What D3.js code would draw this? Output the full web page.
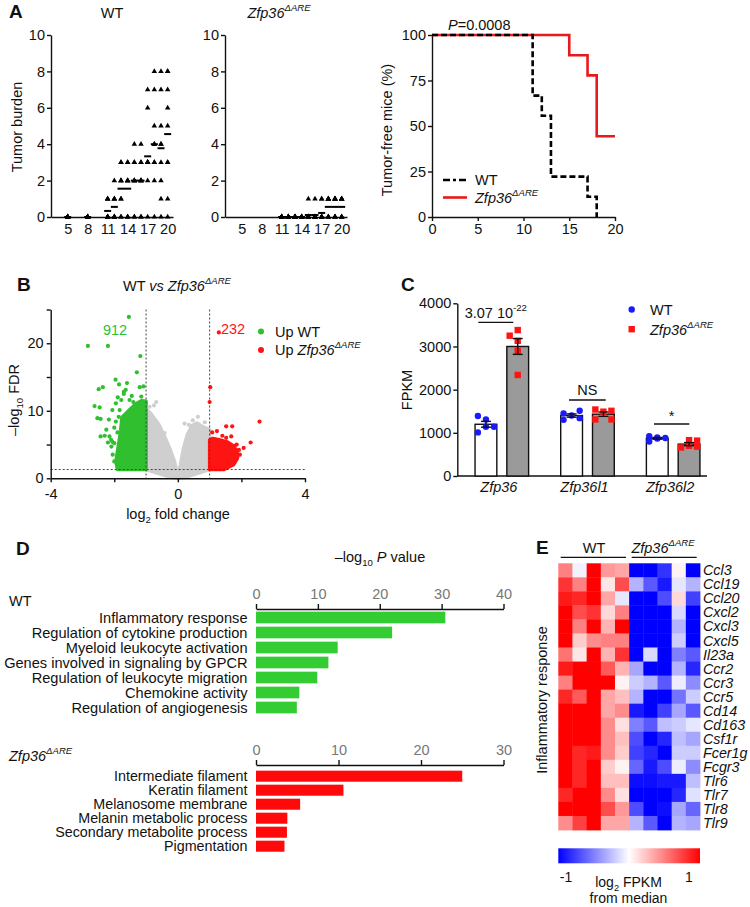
<!DOCTYPE html>
<html><head><meta charset="utf-8">
<script src="https://cdn.jsdelivr.net/npm/d3@7"></script>
<style>
body{margin:0;background:#fff;}
</style></head><body>
<script>
// ---------------- DATA ----------------
// Panel A: tumour burden per mouse per day
const dayTicks = [5, 8, 11, 14, 17, 20];
const burdenTicks = [0, 2, 4, 6, 8, 10];
const wtDays = [5, 8, 11, 12, 13, 14, 15, 16, 17, 18, 19, 20];
const wtBurden = [
  [0,0,0,0,0,0,0,0,0],
  [0,0,0,0,0,0,0,0,0],
  [1,1,1,0,0,0,0,0,0],
  [2,1,1,1,0,0,0,0,0],
  [3,3,2,2,2,1,1,0,0],
  [3,3,2,2,2,2,0,0,0],
  [4,3,3,2,2,2,2,0,0],
  [4,3,3,2,2,2,2,0,0],
  [7,6,3,3,3,3,3,2,0],
  [8,7,5,4,4,3,3,2,0],
  [8,7,5,4,4,3,2,1,0],
  [8,8,7,6,5,3,3,1,0]
];
const koDays = [11, 12, 13, 14, 15, 16, 17, 18, 19, 20];
const koBurden = [
  [0,0,0,0,0,0,0,0,0],
  [0,0,0,0,0,0,0,0,0],
  [0,0,0,0,0,0,0,0,0],
  [0,0,0,0,0,0,0,0,0],
  [1,0,0,0,0,0,0,0,0],
  [1,0,0,0,0,0,0,0,0],
  [1,1,0,0,0,0,0,0,0],
  [1,1,1,1,1,0,0,0,0],
  [1,1,1,1,1,0,0,0,0],
  [1,1,1,1,1,0,0,0,0]
];
// Panel A: tumour-free survival
const survTicksX = [0, 5, 10, 15, 20];
const survTicksY = [0, 25, 50, 75, 100];
const wtSurvDay = [0, 11, 12, 13, 17, 18];
const wtSurvPct = [100, 66.7, 55.6, 22.2, 11.1, 0];
const koSurvDay = [0, 15, 17, 18, 20];
const koSurvPct = [100, 88.9, 77.8, 44.4, 44.4];

// Panel B: volcano (dense clouds as outlines, sparse points individually)
const volcTicksX = [-4, -2, 0, 2, 4];
const volcTicksY = [0, 5, 10, 15, 20, 25];
const greyCloud = [[-1,10.3],[-0.85,9.6],[-0.6,8.0],[-0.4,6.0],[-0.25,4.4],[-0.1,2.4],[0,0.4],[0.08,2.0],[0.18,4.5],[0.3,6.5],[0.45,7.8],[0.6,8.2],[0.8,7.6],[1,7.2],[1,1.3],[0.6,0.7],[0.2,0.1],[0,0],[-0.2,0.1],[-0.6,0.7],[-1,1.3]];
const greenCloud = [[-1,1.3],[-1.9,1.3],[-1.95,2.5],[-1.9,4],[-1.85,5.5],[-1.8,7],[-1.76,9],[-1.55,10],[-1.33,11],[-1.15,11.5],[-1,11.4]];
const redCloud = [[1,1.3],[1.45,1.3],[1.75,2],[1.88,3],[1.86,4],[1.75,4.8],[1.55,5.4],[1.3,5.7],[1.1,5.9],[1,5.7]];
const greySpots = [[-0.68,11.3],[-0.89,10.6],[-0.75,10.8],[0.63,9.1],[0.47,8.6],[0.21,8.1],[0.35,7.9],[-0.42,6.7],[0.85,8.3]];
const greenSpots = [[-1.54,23.9],[-2.83,19.6],[-2.2,19.6],[-1.18,18.1],[-1.29,15.7],[-1.96,14.6],[-1.85,13.9],[-1.6,14.1],[-1.64,13.1],[-1.2,13.5],[-1.08,13.6],[-2.49,13.2],[-2.36,13.5],[-2.62,10.7],[-2.46,10.5],[-2.53,8.9],[-2.43,8.8],[-2.17,8.7],[-1.89,12.0],[-1.78,11.6],[-1.52,11.6],[-1.86,9.1],[-1.83,10.1],[-1.95,11.1],[-2.06,10.1],[-1.7,12.5],[-1.45,12.2],[-2.43,6.2],[-2.3,6.3],[-2.15,6.2],[-2.06,5.4],[-2.2,5.3],[-2.09,4.7],[-2.0,5.2],[-2.1,5.7],[-1.95,8.4],[-2.0,7.5],[-2.05,3.5],[-2.0,2.5],[-1.7,12.8],[-1.4,11.3],[-1.15,12.1],[-2.25,7.2],[-1.9,6.8]];
const redSpots = [[1.29,21.6],[1.02,13.5],[1.0,11.3],[2.57,8.4],[1.52,7.7],[1.71,7.7],[1.23,7.0],[1.08,6.8],[2.29,5.3],[2.07,4.5],[1.78,4.8],[1.68,6.2],[1.52,6.0],[1.95,3.5],[1.92,4.2],[1.85,5.0],[1.4,6.3]];

// Panel C: FPKM
const genesC = ['Zfp36', 'Zfp36l1', 'Zfp36l2'];
const fpkmTicks = [0, 1000, 2000, 3000, 4000];
const wtFpkm = [[1390,1310,1140,1010,1140],[1450,1400,1510,1300,1340],[920,890,880,800,870]];
const koFpkm = [[3250,3380,3130,2900,2340],[1540,1490,1510,1310,1310],[660,830,820,700,680]];
const wtSlots = [[0,1,2,0,1],[0,1,2,0,2],[0,1,2,0,1]];
const koSlots = [[0,1,1,1,1],[0,1,2,0,2],[0,1,2,1,2]];

// Panel D: enrichment
const wtTerms = ['Inflammatory response','Regulation of cytokine production','Myeloid leukocyte activation','Genes involved in signaling by GPCR','Regulation of leukocyte migration','Chemokine activity','Regulation of angiogenesis'];
const wtLogP = [30.6, 22.0, 13.2, 11.7, 9.9, 7.0, 6.6];
const wtPTicks = [0, 10, 20, 30, 40];
const koTerms = ['Intermediate filament','Keratin filament','Melanosome membrane','Melanin metabolic process','Secondary metabolite process','Pigmentation'];
const koLogP = [25.0, 10.6, 5.35, 3.8, 3.75, 3.45];
const koPTicks = [0, 10, 20, 30];

// Panel E: heatmap (log2 FPKM from median), 5 WT then 5 KO
const heatGenes = ['Ccl3','Ccl19','Ccl20','Cxcl2','Cxcl3','Cxcl5','Il23a','Ccr2','Ccr3','Ccr5','Cd14','Cd163','Csf1r','Fcer1g','Fcgr3','Tlr6','Tlr7','Tlr8','Tlr9'];
const heatVals = [
  [0.5,-0.05,1,0.4,0.35,-1,-1,-0.8,0.05,-1],
  [0.8,0.5,1,0.1,0.7,-0.3,-0.65,-0.9,-0.1,-0.3],
  [0.9,0.85,1,0.35,-0.1,-1,-1,-0.7,0.15,-0.75],
  [1,0.7,0.8,0.15,0.5,-1,-1,-1,-0.15,-1],
  [1,0.5,1,0.3,1,-1,-1,-1,-0.3,-1],
  [1,0.2,0.45,0.5,0.5,-1,-1,-1,-0.2,-1],
  [0.55,0.1,1,0.3,0.8,-1,-0.15,-1,-0.5,-0.65],
  [0.9,1,1,0.65,0.3,-0.35,-1,-1,-0.3,-0.85],
  [0.5,1,1,1,0.05,-0.2,-0.3,-0.65,-0.07,-0.45],
  [0.85,0.65,1,0.35,0.25,-0.3,-1,-1,-0.55,-0.2],
  [1,1,1,0.35,0.45,-0.9,-1,-0.75,-0.35,-0.65],
  [1,1,1,0.45,0.12,-0.5,-0.65,-0.25,-0.2,-0.1],
  [1,1,1,0.45,0.25,-0.7,-1,-0.85,-0.25,-0.35],
  [1,0.85,0.9,0.45,0.2,-0.75,-0.85,-1,-0.2,-0.2],
  [1,0.85,1,0.2,0.05,-0.6,-0.9,-0.7,-0.07,-0.45],
  [1,0.85,1,0.25,0.25,-0.95,-0.95,-0.9,-0.9,-0.25],
  [0.85,1,1,0.45,0.12,-1,-1,-1,-0.85,-0.12],
  [1,1,1,0.7,0.4,-0.7,-1,-0.95,-0.35,-0.6],
  [0.45,0.75,1,0.35,0.35,-0.3,-0.65,-1,-0.3,-0.35]
];

// ---------------- DRAWING ----------------
const F = '"Liberation Sans", Arial, Helvetica, sans-serif';
const FS = 14.5;
const INK = '#111';
const GREEN = '#2fbf2f', RED = '#ff1414', BLUE = '#1a1aff';
const svg = d3.select('body').append('svg').attr('width', 750).attr('height', 907).style('display', 'block');
svg.append('rect').attr('width', 750).attr('height', 907).attr('fill', '#fff');

function rich(x, y, parts, o = {}) {
  const size = o.size || FS;
  const t = svg.append('text').attr('x', x).attr('y', y).attr('font-size', size)
    .attr('font-family', F).attr('text-anchor', o.anchor || 'start').attr('fill', o.fill || INK);
  if (o.weight) t.attr('font-weight', o.weight);
  if (o.rotate !== undefined) t.attr('transform', `rotate(${o.rotate},${x},${y})`);
  let shift = 0;
  parts.forEach(p => {
    if (typeof p === 'string') p = { t: p };
    const s = p.sup ? -0.45 * size : p.sub ? 0.28 * size : 0;
    const ts = t.append('tspan').text(p.t);
    if (s !== shift) { ts.attr('dy', s - shift); shift = s; }
    if (p.sup || p.sub) ts.attr('font-size', size * 0.66);
    if (p.i) ts.attr('font-style', 'italic');
  });
  return t;
}
function styleAx(g, col = INK, size = FS) {
  g.attr('font-family', F).attr('font-size', size);
  g.selectAll('.domain').attr('stroke', INK).attr('stroke-width', 1.4);
  g.selectAll('.tick line').attr('stroke', INK).attr('stroke-width', 1.4);
  g.selectAll('.tick text').attr('fill', col);
  return g;
}
const KO = [{ t: 'Zfp36', i: true }, { t: '\u0394ARE', i: true, sup: true }];

// Panel letters
[['A', 9, 18], ['B', 17, 291], ['C', 401, 291], ['D', 16, 555], ['E', 536, 554]].forEach(([l, x, y]) =>
  rich(x, y, [l], { size: 19, weight: 900 }));

// ---- Panel A scatter plots ----
function burdenPanel(x0, x1, days, vals, titleParts, titleX) {
  const x = d3.scaleLinear().domain([2.5, 20.8]).range([x0, x1]);
  const y = d3.scaleLinear().domain([0, 10]).range([217, 35]);
  styleAx(svg.append('g').attr('transform', `translate(${x0},0)`)
    .call(d3.axisLeft(y).tickValues(burdenTicks).tickSize(4).tickSizeOuter(0).tickPadding(2)));
  styleAx(svg.append('g').attr('transform', `translate(0,${y(0)})`)
    .call(d3.axisBottom(x).tickValues(dayTicks).tickSize(0).tickSizeOuter(0).tickPadding(7)));
  const tri = d3.symbol(d3.symbolTriangle, 13)();
  days.forEach((d, i) => {
    vals[i].forEach(v => svg.append('path').attr('d', tri)
      .attr('transform', `translate(${x(d)},${y(v)})`).attr('fill', '#000'));
    const m = d3.mean(vals[i]);
    svg.append('line').attr('x1', x(d) - 3.5).attr('x2', x(d) + 3.5)
      .attr('y1', y(m)).attr('y2', y(m)).attr('stroke', '#000').attr('stroke-width', 2);
  });
  rich(titleX, 18, titleParts, { anchor: 'middle' });
}
burdenPanel(51, 173, wtDays, wtBurden, ['WT'], 112);
burdenPanel(225, 347, koDays, koBurden, KO, 279);
rich(22, 127, ['Tumor burden'], { anchor: 'middle', rotate: -90 });

// ---- Panel A survival ----
{
  const x = d3.scaleLinear().domain([0, 20]).range([432, 615]);
  const y = d3.scaleLinear().domain([0, 100]).range([217, 35]);
  styleAx(svg.append('g').attr('transform', `translate(${x(0)},0)`)
    .call(d3.axisLeft(y).tickValues(survTicksY).tickSize(4).tickSizeOuter(0).tickPadding(2)));
  styleAx(svg.append('g').attr('transform', `translate(0,${y(0)})`)
    .call(d3.axisBottom(x).tickValues(survTicksX).tickSize(4).tickSizeOuter(0).tickPadding(3)));
  const line = d3.line().x(d => x(d[0])).y(d => y(d[1])).curve(d3.curveStepAfter);
  svg.append('path').attr('d', line(d3.zip(koSurvDay, koSurvPct))).attr('fill', 'none')
    .attr('stroke', '#e8191c').attr('stroke-width', 2.6);
  svg.append('path').attr('d', line(d3.zip(wtSurvDay, wtSurvPct))).attr('fill', 'none')
    .attr('stroke', '#000').attr('stroke-width', 2.6).attr('stroke-dasharray', '6,3');
  rich(392, 130, ['Tumor-free mice (%)'], { anchor: 'middle', rotate: -90 });
  rich(448, 30, [{ t: 'P', i: true }, '=0.0008']);
  svg.append('line').attr('x1', 443).attr('x2', 467).attr('y1', 180).attr('y2', 180)
    .attr('stroke', '#000').attr('stroke-width', 2.6).attr('stroke-dasharray', '7,3,3,3');
  svg.append('line').attr('x1', 443).attr('x2', 467).attr('y1', 197.5).attr('y2', 197.5)
    .attr('stroke', '#e8191c').attr('stroke-width', 2.6);
  rich(475, 185, ['WT']);
  rich(475, 203, KO);
}

// ---- Panel B volcano ----
{
  const x = d3.scaleLinear().domain([-4, 4]).range([50.7, 305]);
  const y = d3.scaleLinear().domain([0, 25]).range([478.3, 309.5]);
  const area = d3.line().x(d => x(d[0])).y(d => y(d[1]));
  const cloud = (pts, col) => svg.append('path').attr('d', area(pts) + 'Z').attr('fill', col)
    .attr('stroke', col).attr('stroke-width', 3.5).attr('stroke-linejoin', 'round');
  cloud(greyCloud, '#cfcfcf');
  cloud(greenCloud, GREEN);
  cloud(redCloud, RED);
  const spots = (pts, col) => pts.forEach(p => svg.append('circle').attr('cx', x(p[0])).attr('cy', y(p[1]))
    .attr('r', 2.1).attr('fill', col));
  spots(greySpots, '#cfcfcf');
  spots(greenSpots, GREEN);
  spots(redSpots, RED);
  // thresholds
  [-1, 1].forEach(v => svg.append('line').attr('x1', x(v)).attr('x2', x(v)).attr('y1', y(25)).attr('y2', y(0))
    .attr('stroke', '#444').attr('stroke-width', 1).attr('stroke-dasharray', '2,2'));
  svg.append('line').attr('x1', x(-4)).attr('x2', x(4)).attr('y1', y(1.3)).attr('y2', y(1.3))
    .attr('stroke', '#444').attr('stroke-width', 1).attr('stroke-dasharray', '2,2');
  styleAx(svg.append('g').attr('transform', `translate(${x(-4)},0)`)
    .call(d3.axisLeft(y).tickValues(volcTicksY).tickSize(4).tickSizeOuter(0).tickPadding(3)
      .tickFormat(d => d % 10 === 0 ? d : '')));
  styleAx(svg.append('g').attr('transform', `translate(0,${y(0)})`)
    .call(d3.axisBottom(x).tickValues(volcTicksX).tickSize(4).tickSizeOuter(0).tickPadding(6)
      .tickFormat(d => d % 4 === 0 ? String(d) : '')));
  rich(177, 291, ['WT ', { t: 'vs', i: true }, ' '].concat(KO), { anchor: 'middle' });
  rich(178, 519, ['log', { t: '2', sub: true }, ' fold change'], { anchor: 'middle' });
  rich(19, 400, ['\u2013log', { t: '10', sub: true }, ' FDR'], { anchor: 'middle', rotate: -90 });
  rich(115, 335, ['912'], { anchor: 'middle', fill: GREEN });
  rich(233, 334, ['232'], { anchor: 'middle', fill: RED });
  svg.append('circle').attr('cx', 261).attr('cy', 331.5).attr('r', 3).attr('fill', GREEN);
  svg.append('circle').attr('cx', 261).attr('cy', 350).attr('r', 3).attr('fill', RED);
  rich(275, 337, ['Up WT']);
  rich(275, 355, ['Up '].concat(KO));
}

// ---- Panel C bars ----
{
  const y = d3.scaleLinear().domain([0, 4000]).range([476, 303.3]);
  const xg = d3.scaleBand().domain(genesC).range([459, 716]);
  const xs = d3.scaleBand().domain(['WT', 'KO']).range([0, xg.bandwidth()]).paddingInner(0.315).paddingOuter(0.505);
  styleAx(svg.append('g').attr('transform', `translate(457.3,0)`)
    .call(d3.axisLeft(y).tickValues(fpkmTicks).tickSize(4).tickSizeOuter(0).tickPadding(2).tickFormat(d3.format('d'))));
  svg.append('line').attr('x1', 457.3).attr('x2', 707).attr('y1', y(0)).attr('y2', y(0))
    .attr('stroke', INK).attr('stroke-width', 1.4);
  const bw = xs.bandwidth();
  const series = [['WT', wtFpkm, wtSlots, '#fff'], ['KO', koFpkm, koSlots, '#9a9a9a']];
  series.forEach(([k, pts, slots, fill]) => {
    genesC.forEach((g, gi) => {
      const x0 = xg(g) + xs(k);
      const m = d3.mean(pts[gi]);
      const sem = d3.deviation(pts[gi]) / Math.sqrt(pts[gi].length);
      svg.append('rect').attr('x', x0).attr('y', y(m)).attr('width', bw).attr('height', y(0) - y(m))
        .attr('fill', fill).attr('stroke', INK).attr('stroke-width', 1.4);
      pts[gi].forEach((v, j) => {
        const px = x0 + bw * (0.13 + 0.37 * slots[gi][j]);
        if (k === 'WT') svg.append('circle').attr('cx', px).attr('cy', y(v)).attr('r', 3.2).attr('fill', BLUE);
        else svg.append('rect').attr('x', px - 3.2).attr('y', y(v) - 3.2).attr('width', 6.4).attr('height', 6.4).attr('fill', RED);
      });
      const cx = x0 + bw / 2;
      svg.append('line').attr('x1', cx).attr('x2', cx).attr('y1', y(m - sem)).attr('y2', y(m + sem)).attr('stroke', INK).attr('stroke-width', 1.4);
      [m - sem, m + sem].forEach(v => svg.append('line').attr('x1', cx - 5).attr('x2', cx + 5)
        .attr('y1', y(v)).attr('y2', y(v)).attr('stroke', INK).attr('stroke-width', 1.4));
    });
  });
  genesC.forEach(g => rich(xg(g) + xg.bandwidth() / 2 - 3, 492, [{ t: g, i: true }], { anchor: 'middle' }));
  rich(412, 390, ['FPKM'], { anchor: 'middle', rotate: -90 });
  // significance
  const sig = [[478.3, 513.3, 322.3, ['3.07 10', { t: '-22', sup: true }], 318], [569, 605.7, 400, ['NS'], 395], [654, 689.3, 424, ['*'], 421]];
  sig.forEach(([a, b, yy, parts, ty]) => {
    svg.append('line').attr('x1', a).attr('x2', b).attr('y1', yy).attr('y2', yy).attr('stroke', INK).attr('stroke-width', 1.3);
    rich((a + b) / 2, ty, parts, { anchor: 'middle' });
  });
  svg.append('circle').attr('cx', 631.7).attr('cy', 309.5).attr('r', 3.2).attr('fill', BLUE);
  svg.append('rect').attr('x', 628.5).attr('y', 326).attr('width', 6.4).attr('height', 6.4).attr('fill', RED);
  rich(650, 314.5, ['WT']);
  rich(650, 334.5, KO);
}

// ---- Panel D enrichment bars ----
function enrich(terms, vals, ticks, maxV, top, bottom, axisY, color, ipad, opad, lsize) {
  const x = d3.scaleLinear().domain([0, maxV]).range([256, 503.5]);
  const y = d3.scaleBand().domain(terms).range([top, bottom]).paddingInner(ipad).paddingOuter(opad);
  styleAx(svg.append('g').attr('transform', `translate(0,${axisY})`)
    .call(d3.axisTop(x).tickValues(ticks).tickSize(5).tickSizeOuter(0).tickPadding(5)), '#777');
  terms.forEach((t, i) => {
    svg.append('rect').attr('x', x(0)).attr('y', y(t)).attr('width', x(vals[i]) - x(0)).attr('height', y.bandwidth())
      .attr('fill', color);
    rich(247.5, y(t) + y.bandwidth() / 2 + 5, [t], { anchor: 'end', size: lsize });
  });
}
rich(380, 562, ['\u2013log', { t: '10', sub: true }, ' ', { t: 'P', i: true }, ' value'], { anchor: 'middle' });
rich(9, 606, ['WT']);
enrich(wtTerms, wtLogP, wtPTicks, 40, 610, 715, 609, '#33cc33', 0.22, 0.11, 14.6);
rich(9, 761, KO);
enrich(koTerms, koLogP, koPTicks, 30, 769.2, 853.2, 765, '#ff0a0a', 0.21, 0.105, 14.3);

// ---- Panel E heatmap ----
{
  const col = d3.scaleLinear().domain([-1, 0, 1]).range(['#0000ff', '#ffffff', '#ff0000']).clamp(true);
  const x = d3.scaleBand().domain(d3.range(10)).range([558.3, 700]);
  const y = d3.scaleBand().domain(heatGenes).range([563.3, 830]);
  heatGenes.forEach((g, r) => {
    heatVals[r].forEach((v, c) => svg.append('rect').attr('x', x(c)).attr('y', y(g))
      .attr('width', x.bandwidth() + 0.4).attr('height', y.bandwidth() + 0.4).attr('fill', col(v)));
    rich(703, y(g) + y.bandwidth() / 2 + 5, [{ t: g, i: true }], { size: 14.3 });
  });
  svg.append('line').attr('x1', 560.7).attr('x2', 626).attr('y1', 557.3).attr('y2', 557.3).attr('stroke', INK).attr('stroke-width', 1.3);
  svg.append('line').attr('x1', 631.7).attr('x2', 696.7).attr('y1', 557.3).attr('y2', 557.3).attr('stroke', INK).attr('stroke-width', 1.3);
  rich(594, 553, ['WT'], { anchor: 'middle' });
  rich(663, 553, KO, { anchor: 'middle' });
  rich(547, 700, ['Inflammatory response'], { anchor: 'middle', rotate: -90 });
  // colour bar
  const defs = svg.append('defs');
  const grad = defs.append('linearGradient').attr('id', 'cbar');
  d3.range(0, 1.0001, 0.1).forEach(t => grad.append('stop').attr('offset', t).attr('stop-color', col(-1 + 2 * t)));
  svg.append('rect').attr('x', 558.3).attr('y', 848.3).attr('width', 141.7).attr('height', 15).attr('fill', 'url(#cbar)');
  rich(566, 882, ['-1'], { anchor: 'middle', size: 14 });
  rich(689, 882, ['1'], { anchor: 'middle', size: 14 });
  rich(628.5, 887, ['log', { t: '2', sub: true }, ' FPKM'], { anchor: 'middle', size: 14 });
  rich(628.5, 903, ['from median'], { anchor: 'middle', size: 14 });
}
</script>
</body></html>
